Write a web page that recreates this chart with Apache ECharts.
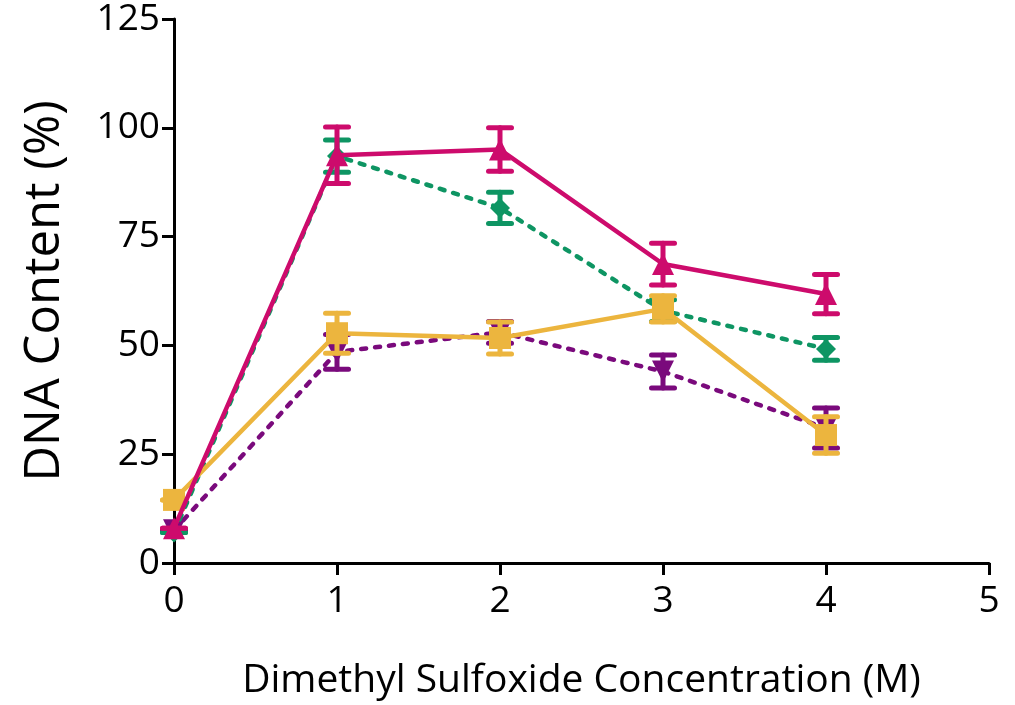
<!DOCTYPE html>
<html><head><meta charset="utf-8">
<script src="https://cdn.jsdelivr.net/npm/echarts@6/dist/echarts.min.js"></script>
<style>html,body{margin:0;padding:0;background:#fff}#c{width:1015px;height:705px}</style>
</head><body><div id="c"></div>
<script>
var xValues = [0, 1, 2, 3, 4];
var xTicks = [0, 1, 2, 3, 4, 5];
var yTicks = [0, 25, 50, 75, 100, 125];
var magentaMean = [8, 93.7, 95, 68.7, 61.8];
var magentaErr  = [0, 6.5, 5, 4.8, 4.5];
var greenMean   = [7, 93.5, 81.6, 58, 49.2];
var greenErr    = [0, 3.7, 3.6, 2.5, 2.6];
var purpleMean  = [7.5, 48.5, 53, 44, 31];
var purpleErr   = [0, 4, 2.5, 3.8, 4.6];
var yellowMean  = [14.5, 52.8, 51.7, 58.4, 29.4];
var yellowErr   = [0, 4.6, 3.7, 3, 4.2];

var C = {magenta:'#CD0B6C', green:'#0E9563', purple:'#7A0A7C', yellow:'#ECB53E'};
var FONT = 'Open Sans';
var chart = echarts.init(document.getElementById('c'));
function pts(m){ return xValues.map(function(x,i){return [x,m[i]];}); }
function errData(m,e){ return xValues.map(function(x,i){return [x,m[i]-e[i],m[i]+e[i]];}); }
function errSeries(m,e,color,z){
  return {type:'custom', z:z, silent:true, data:errData(m,e),
    renderItem:function(params,api){
      var lo=api.coord([api.value(0),api.value(1)]);
      var hi=api.coord([api.value(0),api.value(2)]);
      var w=11.5;
      var st={stroke:color,lineWidth:5,lineCap:'round'};
      return {type:'group',children:[
        {type:'line',shape:{x1:lo[0],y1:lo[1],x2:hi[0],y2:hi[1]},style:st},
        {type:'line',shape:{x1:lo[0]-w,y1:lo[1],x2:lo[0]+w,y2:lo[1]},style:st},
        {type:'line',shape:{x1:hi[0]-w,y1:hi[1],x2:hi[0]+w,y2:hi[1]},style:st}
      ]};
    }};
}
function lineSeries(m,color,symbol,size,dashed,z){
  return {type:'line', z:z, data:pts(m), symbol:symbol, symbolSize:size,
    showAllSymbol:true, clip:false,
    lineStyle:{color:color,width:4.5,type:dashed?[5,9]:'solid',cap:'round'},
    itemStyle:{color:color,borderWidth:0}, emphasis:{disabled:true}};
}
chart.setOption({
  animation:false,
  grid:{left:174,right:26,top:19,bottom:142},
  xAxis:{type:'value',min:0,max:5,interval:1,
    name:'Dimethyl Sulfoxide Concentration (M)',nameLocation:'middle',nameGap:98,
    nameTextStyle:{fontFamily:FONT,fontSize:39,color:'#000'},
    axisLine:{lineStyle:{color:'#000',width:3}},
    axisTick:{show:true,length:12,lineStyle:{color:'#000',width:3}},
    axisLabel:{fontFamily:FONT,fontSize:37,color:'#000',margin:20},
    splitLine:{show:false}},
  yAxis:{type:'value',min:0,max:125,interval:25,
    name:'DNA Content (%)',nameLocation:'middle',nameGap:104,
    nameTextStyle:{fontFamily:FONT,fontSize:49,color:'#000'},
    axisLine:{show:true,lineStyle:{color:'#000',width:3}},
    axisTick:{show:true,length:12,lineStyle:{color:'#000',width:3}},
    axisLabel:{fontFamily:FONT,fontSize:37,color:'#000',margin:14},
    splitLine:{show:false}},
  series:[
    errSeries(purpleMean,purpleErr,C.purple,1),
    lineSeries(purpleMean,C.purple,'path://M0,0L10,0L5,10Z',22,true,2),
    errSeries(greenMean,greenErr,C.green,3),
    lineSeries(greenMean,C.green,'diamond',[20,20],true,4),
    errSeries(yellowMean,yellowErr,C.yellow,5),
    lineSeries(yellowMean,C.yellow,'rect',22,false,6),
    errSeries(magentaMean,magentaErr,C.magenta,7),
    lineSeries(magentaMean,C.magenta,'triangle',22,false,8)
  ]
});
</script></body></html>
